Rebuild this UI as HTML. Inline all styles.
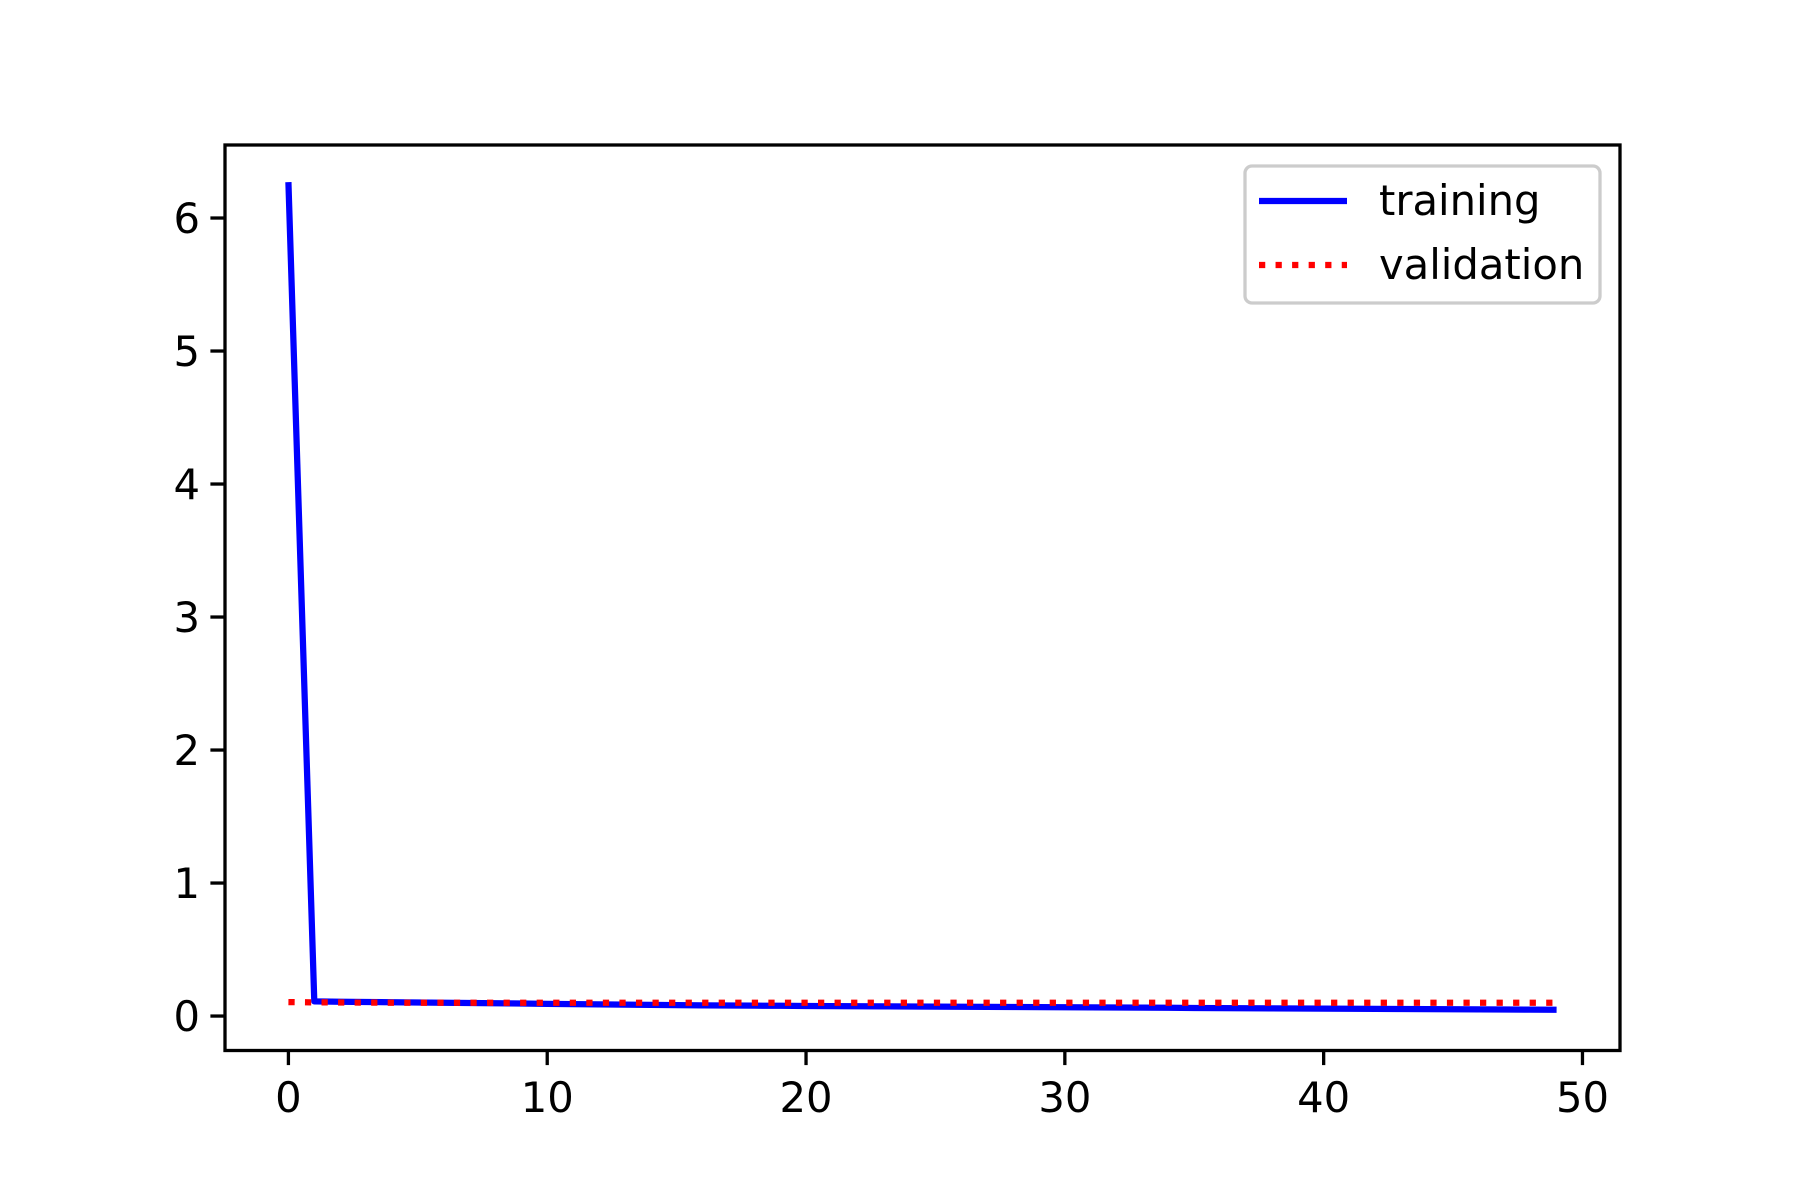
<!DOCTYPE html>
<html>
<head>
<meta charset="utf-8">
<style>
html,body{margin:0;padding:0;background:#fff;}
svg{display:block;}
text{font-family:"DejaVu Sans","Liberation Sans",sans-serif;font-size:41.7px;fill:#000;}
</style>
</head>
<body>
<svg id="chart" width="1800" height="1200" viewBox="0 0 1800 1200" xmlns="http://www.w3.org/2000/svg">
<rect x="0" y="0" width="1800" height="1200" fill="#fff"/>
<g id="plot"></g>
</svg>
<script>
const epochs = [];
for (let i = 0; i < 50; i++) epochs.push(i);
const trainingLoss = [6.27,0.110,0.108,0.106,0.104,0.102,0.100,0.098,0.096,0.094,
0.092,0.090,0.088,0.086,0.084,0.082,0.080,0.079,0.078,0.077,
0.076,0.075,0.074,0.073,0.072,0.071,0.070,0.069,0.068,0.067,
0.066,0.065,0.064,0.063,0.062,0.061,0.060,0.059,0.058,0.057,
0.056,0.055,0.054,0.053,0.052,0.051,0.050,0.049,0.048,0.047];
const validationLoss = [0.105,0.103,0.102,0.101,0.100,0.100,0.100,0.100,0.100,0.100,
0.100,0.100,0.100,0.100,0.100,0.100,0.100,0.100,0.100,0.100,
0.100,0.100,0.100,0.100,0.100,0.100,0.100,0.100,0.100,0.100,
0.100,0.100,0.100,0.100,0.100,0.100,0.100,0.100,0.100,0.100,
0.100,0.100,0.100,0.100,0.100,0.100,0.100,0.100,0.100,0.100];
const xTicks = [0,10,20,30,40,50];
const yTicks = [0,1,2,3,4,5,6];

const L=225,R=1620,T=145,B=1050.5;
const xMin=-2.45,xMax=51.45,yMin=-0.259,yMax=6.549;
const sx=v=>L+(v-xMin)/(xMax-xMin)*(R-L);
const sy=v=>B-(v-yMin)/(yMax-yMin)*(B-T);
const NS="http://www.w3.org/2000/svg";
const g=document.getElementById('plot');
function mk(tag,attrs,parent){const e=document.createElementNS(NS,tag);for(const k in attrs)e.setAttribute(k,attrs[k]);(parent||g).appendChild(e);return e;}

let d=epochs.map((x,i)=>(i?'L':'M')+sx(x).toFixed(2)+' '+sy(trainingLoss[i]).toFixed(2)).join(' ');
const tr=mk('path',{d:d,fill:'none',stroke:'#0000ff','stroke-width':6.25,'stroke-linejoin':'round'});


d=epochs.map((x,i)=>(i?'L':'M')+sx(x).toFixed(2)+' '+sy(validationLoss[i]).toFixed(2)).join(' ');
const va=mk('path',{d:d,fill:'none',stroke:'#ff0000','stroke-width':6.25,'stroke-dasharray':'6.25 10.3'});



const fr=mk('rect',{x:L,y:T,width:R-L,height:B-T,fill:'none',stroke:'#000','stroke-width':3.3});



xTicks.forEach(v=>{
  const t=mk('line',{x1:sx(v),x2:sx(v),y1:B,y2:B+14.6,stroke:'#000','stroke-width':3.3});
  
  
  const l=mk('text',{x:sx(v),y:B+61.5,'text-anchor':'middle'});
  l.textContent=v;
  
  
});
yTicks.forEach(v=>{
  const t=mk('line',{x1:L,x2:L-14.6,y1:sy(v),y2:sy(v),stroke:'#000','stroke-width':3.3});
  
  
  const l=mk('text',{x:L-25,y:sy(v)+15,'text-anchor':'end'});
  l.textContent=v;
  
  
});

const lg=mk('g',{});


mk('rect',{x:1251,y:166,width:355,height:137,rx:7,fill:'#fff','fill-opacity':0.8,stroke:'#cccccc','stroke-width':3.3},lg);
const l1=mk('line',{x1:1265,x2:1353,y1:201,y2:201,stroke:'#0000ff','stroke-width':6.25},lg);


const t1=mk('text',{x:1385,y:215},lg);t1.textContent='training';


const l2=mk('line',{x1:1265,x2:1353,y1:265,y2:265,stroke:'#ff0000','stroke-width':6.25,'stroke-dasharray':'6.25 10.3'},lg);


const t2=mk('text',{x:1385,y:279},lg);t2.textContent='validation';


lg.setAttribute('transform','translate(-6,0)');
</script>
</body>
</html>
